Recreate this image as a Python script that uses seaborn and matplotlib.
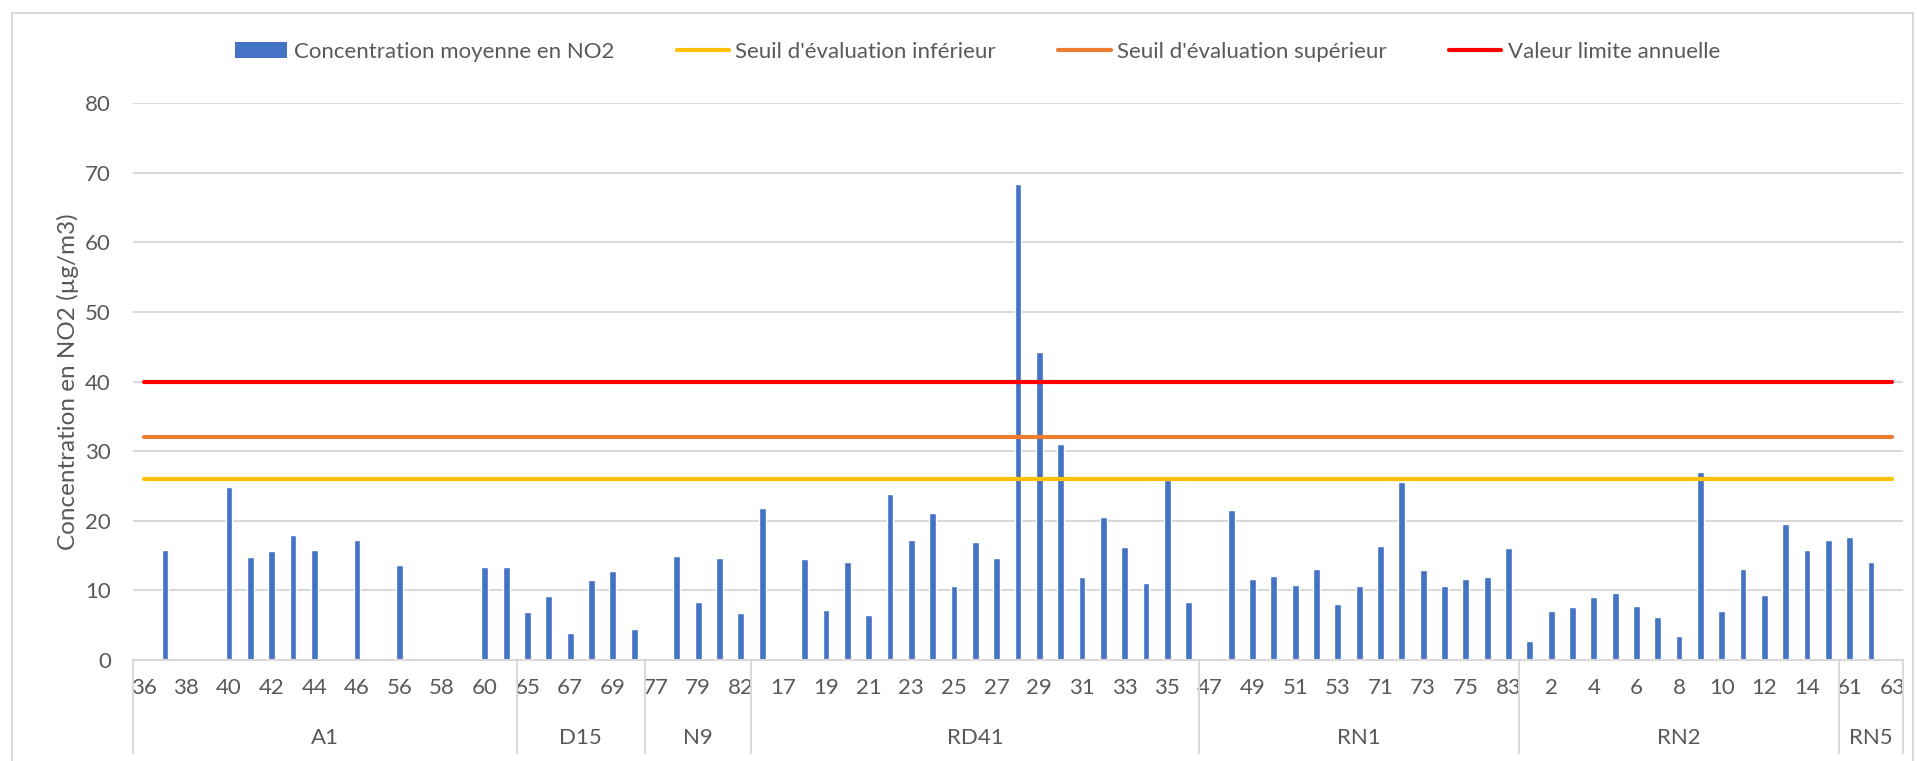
import numpy as np
import pandas as pd
import matplotlib
matplotlib.use("Agg")
import matplotlib.pyplot as plt
import matplotlib.transforms as mtransforms
from matplotlib.lines import Line2D
from matplotlib.patches import Patch, Rectangle
import seaborn as sns

nan = np.nan

# axes: routes (groupes) et points de mesure
groups = ["A1", "D15", "N9", "RD41", "RN1", "RN2", "RN5"]

a1_sites = ["36", "37", "38", "39", "40", "41", "42", "43", "44", "45", "46", "48",
            "56", "57", "58", "59", "60", "62"]
a1_no2 = [nan, 15.8, nan, nan, 24.9, 14.8, 15.6, 17.9, 15.8, nan, 17.2, nan,
          13.7, nan, nan, nan, 13.3, 13.3]

d15_sites = ["65", "66", "67", "68", "69", "70"]
d15_no2 = [6.9, 9.2, 3.9, 11.5, 12.8, 4.5]

n9_sites = ["77", "78", "79", "80", "82"]
n9_no2 = [nan, 14.9, 8.3, 14.6, 6.7]

rd41_sites = [str(i) for i in range(16, 37)]
rd41_no2 = [21.9, nan, 14.5, 7.2, 14.1, 6.4, 23.8, 17.3, 21.1, 10.7, 16.9, 14.6,
            68.3, 44.3, 31.0, 11.9, 20.5, 16.2, 11.0, 25.9, 8.3]

rn1_sites = ["47", "48", "49", "50", "51", "52", "53", "54", "71", "72", "73", "74",
             "75", "76", "83"]
rn1_no2 = [nan, 21.6, 11.7, 12.1, 10.8, 13.1, 8.1, 10.6, 16.4, 25.5, 12.9, 10.7,
           11.6, 11.9, 16.1]

rn2_sites = [str(i) for i in range(1, 16)]
rn2_no2 = [2.7, 7.0, 7.6, 9.0, 9.6, 7.7, 6.2, 3.4, 27.0, 7.0, 13.1, 9.4, 19.5,
           15.8, 17.3]

rn5_sites = ["61", "62", "63"]
rn5_no2 = [17.7, 14.1, nan]

seuil_inf = 26
seuil_sup = 32
valeur_limite = 40

site_lists = [a1_sites, d15_sites, n9_sites, rd41_sites, rn1_sites, rn2_sites, rn5_sites]
value_lists = [a1_no2, d15_no2, n9_no2, rd41_no2, rn1_no2, rn2_no2, rn5_no2]

rows = []
for g, sites, vals in zip(groups, site_lists, value_lists):
    for s, v in zip(sites, vals):
        rows.append({"groupe": g, "site": s, "no2": v})
df = pd.DataFrame(rows)
df["cle"] = df["groupe"] + "-" + df["site"]
n = len(df)

sns.set_theme(style="white")
plt.rcParams["font.family"] = ["Lato", "DejaVu Sans"]
txt = "#595959"
grid = "#d9d9d9"

fig = plt.figure(figsize=(19.17, 7.61), dpi=100)
ax = fig.add_axes([133 / 1917, 101 / 761, 1770 / 1917, 557 / 761])

sns.barplot(data=df, x="cle", y="no2", order=list(df["cle"]), color="#4472C4",
            saturation=1, width=0.32, errorbar=None, ax=ax, zorder=2)

x = np.arange(n)
ax.plot(x, np.full(n, seuil_inf), color="#FFC000", lw=3, zorder=3)
ax.plot(x, np.full(n, seuil_sup), color="#ED7D31", lw=3, zorder=3)
ax.plot(x, np.full(n, valeur_limite), color="#FF0000", lw=3, zorder=3)

ax.set_xlim(-0.5, n - 0.5)
ax.set_ylim(0, 80)
ax.set_yticks(range(0, 81, 10))
ax.yaxis.grid(True, color=grid, lw=1.5)
ax.set_axisbelow(True)
for side in ["left", "right", "top"]:
    ax.spines[side].set_visible(False)
ax.spines["bottom"].set_color(grid)
ax.spines["bottom"].set_linewidth(1.5)

ax.set_xticks(x)
ax.set_xticklabels([s if i % 2 == 0 else "" for i, s in enumerate(df["site"])])
ax.tick_params(axis="x", length=0, pad=13, labelsize=16, labelcolor=txt)
ax.tick_params(axis="y", length=0, pad=16, labelsize=16, labelcolor=txt)
ax.set_xlabel("")
ax.set_ylabel("Concentration en NO2 (µg/m3)", fontsize=17.5, color=txt)
ax.yaxis.set_label_coords(-0.0305, 0.5)

# niveau "groupe" de l'axe des catégories
trans = mtransforms.blended_transform_factory(ax.transData, ax.transAxes)
start = 0
bounds = [-0.5]
for g, sites in zip(groups, site_lists):
    end = start + len(sites)
    bounds.append(end - 0.5)
    ax.text((start + end - 1) / 2, -0.14, g, transform=trans, ha="center",
            va="center", fontsize=16, color=txt)
    start = end
for b in bounds:
    ax.plot([b, b], [0, -0.167], transform=trans, color=grid, lw=1.5, clip_on=False)

handles = [
    Patch(facecolor="#4472C4", edgecolor="none"),
    Line2D([], [], color="#FFC000", lw=3),
    Line2D([], [], color="#ED7D31", lw=3),
    Line2D([], [], color="#FF0000", lw=3),
]
labels = ["Concentration moyenne en NO2", "Seuil d'évaluation inférieur",
          "Seuil d'évaluation supérieur", "Valeur limite annuelle"]
leg = fig.legend(handles, labels, loc="center", bbox_to_anchor=(0.51, 0.932), ncol=4,
                 frameon=False, fontsize=16, handlelength=2.35, handleheight=0.7,
                 handletextpad=0.3, columnspacing=2.8)
for t in leg.get_texts():
    t.set_color(txt)

fig.add_artist(Rectangle((12 / 1917, -0.05), 1901 / 1917, 1.05 - 13 / 761,
                         transform=fig.transFigure, fill=False, edgecolor=grid, lw=1.5))

fig.savefig("out.png", dpi=100)
